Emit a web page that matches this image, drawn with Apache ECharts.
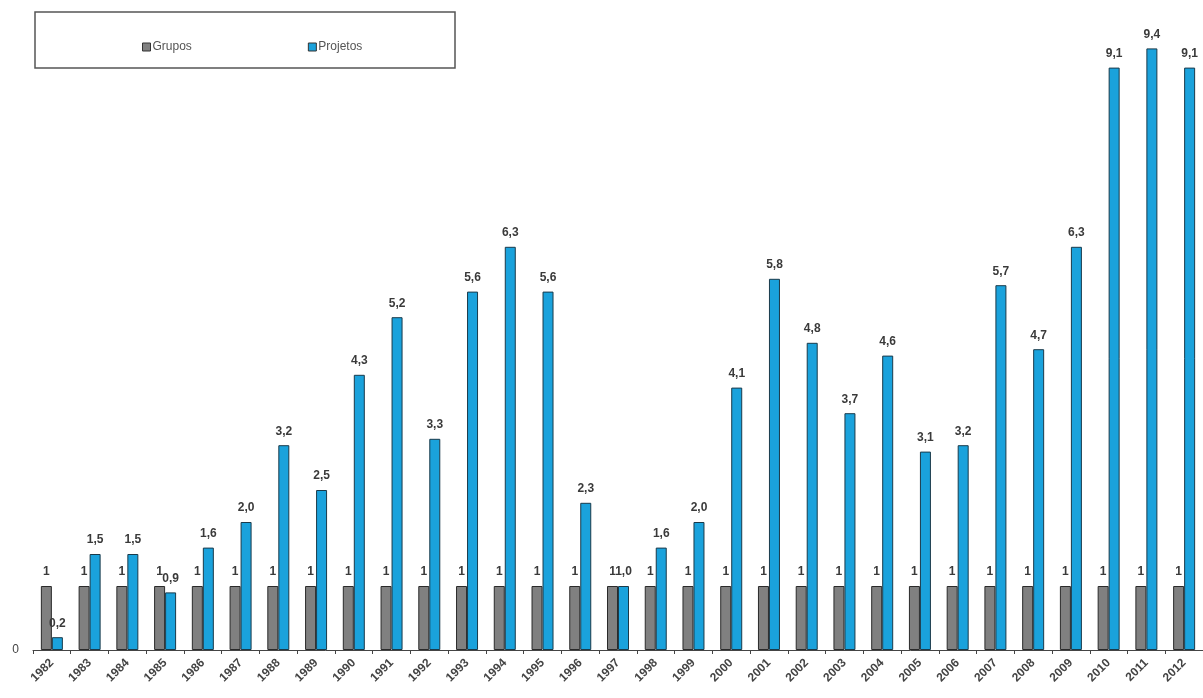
<!DOCTYPE html>
<html><head><meta charset="utf-8">
<script src="https://cdn.jsdelivr.net/npm/echarts@6/dist/echarts.min.js"></script>
<style>html,body{margin:0;padding:0;background:#fff}#c{width:1203px;height:698px}</style>
</head><body><div id="c"></div>
<script>
const years = ['1982','1983','1984','1985','1986','1987','1988','1989','1990','1991','1992','1993','1994','1995','1996','1997','1998','1999','2000','2001','2002','2003','2004','2005','2006','2007','2008','2009','2010','2011','2012'];
const grupos = [1,1,1,1,1,1,1,1,1,1,1,1,1,1,1,1,1,1,1,1,1,1,1,1,1,1,1,1,1,1,1];
const projetos = [0.2,1.5,1.5,0.9,1.6,2.0,3.2,2.5,4.3,5.2,3.3,5.6,6.3,5.6,2.3,1.0,1.6,2.0,4.1,5.8,4.8,3.7,4.6,3.1,3.2,5.7,4.7,6.3,9.1,9.4,9.1];

const chart = echarts.init(document.getElementById('c'), null, {renderer:'canvas'});
const lblFont = {fontFamily:'Liberation Sans, Arial, sans-serif', fontSize:12, fontWeight:'bold', color:'#3a3a3a'};
chart.setOption({
  animation:false,
  backgroundColor:'#fff',
  graphic:[{type:'rect', shape:{x:35,y:12,width:420,height:56}, style:{fill:'#fff', stroke:'#555', lineWidth:1.5}, z:-1}],
  legend:{
    left:137, top:36, itemWidth:8, itemHeight:8, itemGap:116,
    icon:'rect',
    textStyle:{fontFamily:'Liberation Sans, Arial, sans-serif', fontSize:12, color:'#555', padding:[0,0,0,-3]},
    data:[{name:'Grupos', itemStyle:{borderColor:'#333',borderWidth:1}},{name:'Projetos', itemStyle:{borderColor:'#333',borderWidth:1}}]
  },
  grid:{left:33, width:1172, top:10, bottom:48, containLabel:false},
  xAxis:{
    type:'category', data:years, boundaryGap:true,
    axisLine:{lineStyle:{color:'#444', width:1}},
    axisTick:{show:true, length:4, lineStyle:{color:'#444'}},
    axisLabel:{rotate:45, interval:0, fontFamily:'Liberation Sans, Arial, sans-serif', fontSize:12, fontWeight:'bold', color:'#444', margin:11}
  },
  yAxis:{
    type:'value', min:0, max:10, interval:10,
    splitLine:{show:false},
    axisLine:{show:false},
    axisTick:{show:false},
    axisLabel:{formatter:v=> v===0?'0':'', fontFamily:'Liberation Sans, Arial, sans-serif', fontSize:12, color:'#444', margin:14}
  },
  series:[
    {name:'Grupos', type:'bar', data:grupos, barWidth:11, barGap:'0%',
     itemStyle:{color:'#808080', borderColor:'#2a2a2a', borderWidth:1},
     label:{show:true, position:'top', distance:8, formatter:p=>String(p.value), ...lblFont}},
    {name:'Projetos', type:'bar', data:projetos, barWidth:11, barGap:'0%',
     itemStyle:{color:'#1aa2dc', borderColor:'#1a3a4a', borderWidth:1},
     label:{show:true, position:'top', distance:8, formatter:p=>p.value.toFixed(1).replace('.',','), ...lblFont}}
  ]
});
</script></body></html>
